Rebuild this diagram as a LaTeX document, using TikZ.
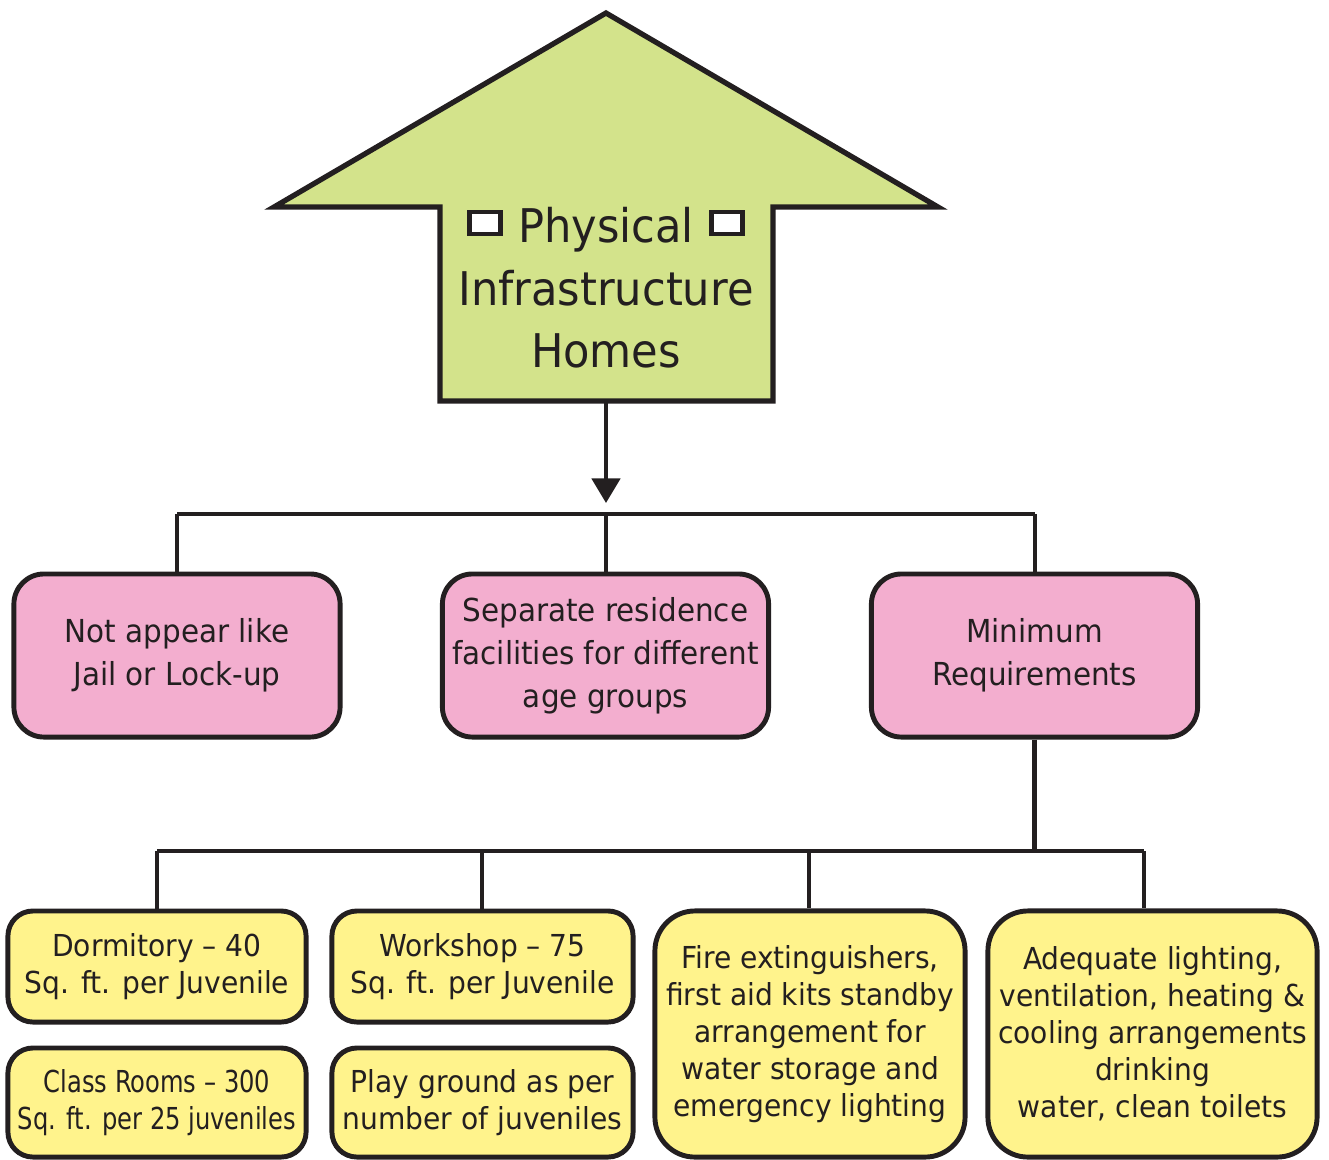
\documentclass[tikz,border=0pt]{standalone}
\usepackage{fontspec}
\setmainfont{DejaVu Sans}[FakeStretch=0.93]
\newfontfamily\narrowfont{DejaVu Sans}[FakeStretch=0.8]
\usepackage{tikz}
\usetikzlibrary{arrows.meta}
\definecolor{ink}{HTML}{231F20}
\definecolor{housegreen}{HTML}{D3E38B}
\definecolor{boxpink}{HTML}{F3AECF}
\definecolor{boxyellow}{HTML}{FFF38C}
\tikzstyle{house}=[draw=ink,fill=housegreen,line width=1.5pt,line join=miter]
\tikzstyle{hole}=[rectangle,draw=ink,fill=white,line width=1.4pt,inner sep=0pt,minimum width=0.31cm,minimum height=0.22cm]
\tikzstyle{pinkbox}=[rectangle,rounded corners=0.3cm,draw=ink,fill=boxpink,line width=1.4pt,text=ink,align=center,inner sep=0pt,minimum width=3.26cm,minimum height=1.63cm,font=\fontsize{9}{12.2}\selectfont]
\tikzstyle{yellowbox}=[rectangle,rounded corners=0.25cm,draw=ink,fill=boxyellow,line width=1.4pt,text=ink,align=center,inner sep=0pt,font=\fontsize{8.6}{10.5}\selectfont]
\tikzstyle{branch}=[draw=ink,line width=1.3pt]
\tikzstyle{down}=[-{Triangle[width=8pt,length=7pt]},draw=ink,fill=ink,line width=1.3pt]

\begin{document}
\begin{tikzpicture}[x=0.01cm,y=-0.01cm]
  \useasboundingbox (0,0) rectangle (1329,1159);

  % house shaped arrow
  \draw[house] (606,13) -- (938,207) -- (773,207) -- (773,401) -- (440,401) -- (440,207) -- (274,207) -- cycle;
  \coordinate (Hb) at (606,401);
  \node[text=ink,align=center,inner sep=0pt,font=\fontsize{13.2}{17.8}\selectfont] (H) at (606,288) {Physical\\Infrastructure\\Homes};
  \node[hole] (sqL) at (485,223) {};
  \node[hole] (sqR) at (727,223) {};

  % first level
  \node[pinkbox] (P1) at (177,655.5) {Not appear like\\Jail or Lock-up};
  \node[pinkbox] (P2) at (605.5,655.5) {Separate residence\\facilities for different\\age groups};
  \node[pinkbox] (P3) at (1034.5,655.5) {Minimum\\Requirements};

  \coordinate (T) at (606,503);
  \coordinate (J1) at (177,514);
  \coordinate (J2) at (606,514);
  \coordinate (J3) at (1035,514);
  \draw[down] (Hb)--(T);
  \draw[branch] (J1)--(J3);
  \draw[branch] (J1)--(J1 |- P1.north); \draw[branch] (J2)--(J2 |- P2.north); \draw[branch] (J3)--(J3 |- P3.north);

  % second level
  \node[yellowbox,minimum width=2.98cm,minimum height=1.11cm] (Y1) at (157,966.5) {Dormitory – 40\\Sq. ft. per Juvenile};
  \node[yellowbox,minimum width=3.01cm,minimum height=1.11cm] (Y2) at (482.5,966.5) {Workshop – 75\\Sq. ft. per Juvenile};
  \node[yellowbox,minimum width=2.98cm,minimum height=1.09cm] (Y3) at (157,1102.5) {\narrowfont Class Rooms – 300\\\narrowfont Sq. ft. per 25 juveniles};
  \node[yellowbox,minimum width=3.01cm,minimum height=1.09cm] (Y4) at (482.5,1102.5) {Play ground as per\\number of juveniles};
  \node[yellowbox,rounded corners=0.4cm,minimum width=3.1cm,minimum height=2.46cm] (Y5) at (810,1034) {Fire extinguishers,\\first aid kits standby\\arrangement for\\water storage and\\emergency lighting};
  \node[yellowbox,rounded corners=0.4cm,minimum width=3.29cm,minimum height=2.46cm] (Y6) at (1152.5,1034) {Adequate lighting,\\ventilation, heating \&\\cooling arrangements\\drinking\\water, clean toilets};

  \coordinate (K1) at (157,851);
  \coordinate (K2) at (482,851);
  \coordinate (K3) at (809,851);
  \coordinate (K4) at (1144,851);
  \draw[branch] (P3.south)--(P3.south |- K1);
  \draw[branch] (K1)--(K4);
  \draw[branch] (K1)--(K1 |- Y1.north); \draw[branch] (K2)--(K2 |- Y2.north);
  \draw[branch] (K3)--(K3 |- Y5.north); \draw[branch] (K4)--(K4 |- Y6.north);

\end{tikzpicture}
\end{document}
